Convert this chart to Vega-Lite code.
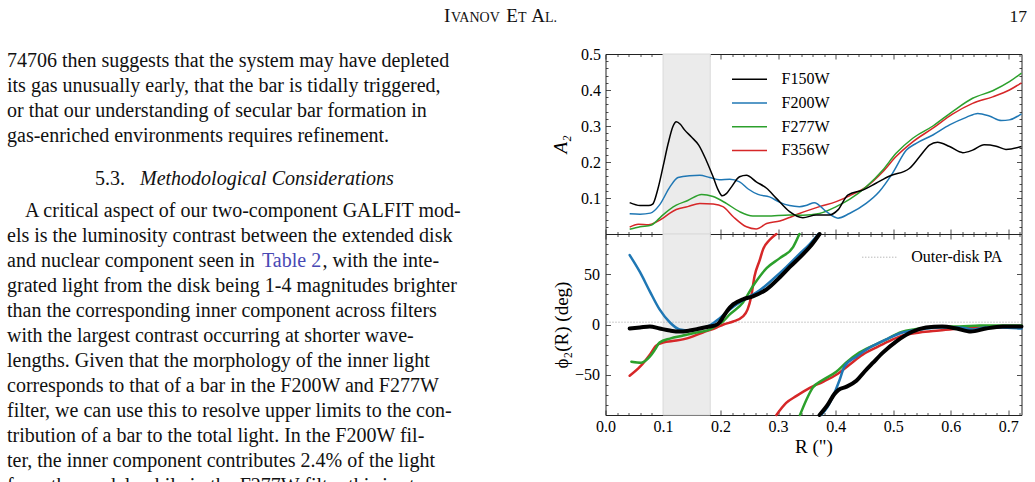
{
  "$schema": "https://vega.github.io/schema/vega-lite/v6.json",
  "padding": 0,
  "background": "white",
  "bounds": "flush",
  "spacing": 45.5,
  "config": {
    "view": {"stroke": null},
    "axis": {
      "labelFont": "Liberation Serif", "labelFontSize": 16, "labelColor": "#000",
      "titleFont": "Liberation Serif", "titleFontSize": 19, "titleFontWeight": "normal", "titleColor": "#000",
      "tickColor": "#222", "domainColor": "#222", "tickWidth": 0.8, "domainWidth": 1,
      "grid": false, "labelOverlap": false, "labelFlush": false, "labelBound": false
    },
    "legend": {"labelFont": "Liberation Serif", "labelFontSize": 16, "labelColor": "#000", "padding": 0}
  },
  "datasets": {
    "txt": [
      {"k": "hb", "line": -0.788, "x": 444, "t": "I"},
      {"k": "hs", "line": -0.788, "x": 451, "t": "VANOV"},
      {"k": "hb", "line": -0.788, "x": 506.3, "t": "E"},
      {"k": "hs", "line": -0.788, "x": 518, "t": "T"},
      {"k": "hb", "line": -0.788, "x": 531.3, "t": "A"},
      {"k": "hs", "line": -0.788, "x": 545, "t": "L."},
      {"k": "body", "line": 1, "x": 7, "t": "74706 then suggests that the system may have depleted"},
      {"k": "body", "line": 2, "x": 7, "t": "its gas unusually early, that the bar is tidally triggered,"},
      {"k": "body", "line": 3, "x": 7, "t": "or that our understanding of secular bar formation in"},
      {"k": "body", "line": 4, "x": 7, "t": "gas-enriched environments requires refinement."},
      {"k": "body", "line": 5.732, "x": 95, "t": "5.3."},
      {"k": "ital", "line": 5.732, "x": 140, "t": "Methodological Considerations"},
      {"k": "body", "line": 7, "x": 25, "t": "A critical aspect of our two-component GALFIT mod-"},
      {"k": "body", "line": 8, "x": 7, "t": "els is the luminosity contrast between the extended disk"},
      {"k": "body", "line": 9, "x": 7, "t": "and nuclear component seen in"},
      {"k": "link", "line": 9, "x": 262, "t": "Table 2"},
      {"k": "body", "line": 9, "x": 322.5, "t": ", with the inte-"},
      {"k": "body", "line": 10, "x": 7, "t": "grated light from the disk being 1-4 magnitudes brighter"},
      {"k": "body", "line": 11, "x": 7, "t": "than the corresponding inner component across filters"},
      {"k": "body", "line": 12, "x": 7, "t": "with the largest contrast occurring at shorter wave-"},
      {"k": "body", "line": 13, "x": 7, "t": "lengths. Given that the morphology of the inner light"},
      {"k": "body", "line": 14, "x": 7, "t": "corresponds to that of a bar in the F200W and F277W"},
      {"k": "body", "line": 15, "x": 7, "t": "filter, we can use this to resolve upper limits to the con-"},
      {"k": "body", "line": 16, "x": 7, "t": "tribution of a bar to the total light. In the F200W fil-"},
      {"k": "body", "line": 17, "x": 7, "t": "ter, the inner component contributes 2.4% of the light"},
      {"k": "body", "line": 18, "x": 7, "t": "from the model, while in the F277W filter this is at"}
    ],
    "a2": [
      {"f":"F356W","R":0.042,"A":0.019},{"f":"F356W","R":0.057,"A":0.027},{"f":"F356W","R":0.075,"A":0.026},{"f":"F356W","R":0.088,"A":0.033},{"f":"F356W","R":0.100,"A":0.044},{"f":"F356W","R":0.112,"A":0.058},{"f":"F356W","R":0.123,"A":0.068},{"f":"F356W","R":0.143,"A":0.076},{"f":"F356W","R":0.164,"A":0.085},{"f":"F356W","R":0.187,"A":0.083},{"f":"F356W","R":0.204,"A":0.076},{"f":"F356W","R":0.222,"A":0.048},{"f":"F356W","R":0.245,"A":0.020},{"f":"F356W","R":0.262,"A":0.014},{"f":"F356W","R":0.280,"A":0.029},{"f":"F356W","R":0.303,"A":0.036},{"f":"F356W","R":0.320,"A":0.046},{"f":"F356W","R":0.337,"A":0.057},{"f":"F356W","R":0.372,"A":0.076},{"f":"F356W","R":0.401,"A":0.090},{"f":"F356W","R":0.424,"A":0.106},{"f":"F356W","R":0.453,"A":0.131},{"f":"F356W","R":0.482,"A":0.173},{"f":"F356W","R":0.505,"A":0.215},{"f":"F356W","R":0.534,"A":0.256},{"f":"F356W","R":0.569,"A":0.294},{"f":"F356W","R":0.603,"A":0.333},{"f":"F356W","R":0.638,"A":0.363},{"f":"F356W","R":0.673,"A":0.381},{"f":"F356W","R":0.702,"A":0.400},{"f":"F356W","R":0.723,"A":0.420},
      {"f":"F277W","R":0.042,"A":0.013},{"f":"F277W","R":0.060,"A":0.020},{"f":"F277W","R":0.080,"A":0.025},{"f":"F277W","R":0.090,"A":0.038},{"f":"F277W","R":0.100,"A":0.053},{"f":"F277W","R":0.123,"A":0.080},{"f":"F277W","R":0.143,"A":0.093},{"f":"F277W","R":0.167,"A":0.110},{"f":"F277W","R":0.187,"A":0.104},{"f":"F277W","R":0.210,"A":0.085},{"f":"F277W","R":0.233,"A":0.062},{"f":"F277W","R":0.256,"A":0.050},{"f":"F277W","R":0.280,"A":0.050},{"f":"F277W","R":0.320,"A":0.053},{"f":"F277W","R":0.343,"A":0.052},{"f":"F277W","R":0.372,"A":0.057},{"f":"F277W","R":0.401,"A":0.076},{"f":"F277W","R":0.424,"A":0.096},{"f":"F277W","R":0.453,"A":0.131},{"f":"F277W","R":0.482,"A":0.178},{"f":"F277W","R":0.505,"A":0.224},{"f":"F277W","R":0.534,"A":0.266},{"f":"F277W","R":0.569,"A":0.300},{"f":"F277W","R":0.603,"A":0.340},{"f":"F277W","R":0.638,"A":0.377},{"f":"F277W","R":0.673,"A":0.398},{"f":"F277W","R":0.702,"A":0.423},{"f":"F277W","R":0.723,"A":0.447},
      {"f":"F200W","R":0.042,"A":0.056},{"f":"F200W","R":0.060,"A":0.055},{"f":"F200W","R":0.078,"A":0.058},{"f":"F200W","R":0.094,"A":0.081},{"f":"F200W","R":0.112,"A":0.131},{"f":"F200W","R":0.126,"A":0.157},{"f":"F200W","R":0.146,"A":0.162},{"f":"F200W","R":0.164,"A":0.163},{"f":"F200W","R":0.181,"A":0.157},{"f":"F200W","R":0.198,"A":0.151},{"f":"F200W","R":0.216,"A":0.152},{"f":"F200W","R":0.233,"A":0.145},{"f":"F200W","R":0.248,"A":0.125},{"f":"F200W","R":0.265,"A":0.110},{"f":"F200W","R":0.285,"A":0.103},{"f":"F200W","R":0.303,"A":0.088},{"f":"F200W","R":0.320,"A":0.079},{"f":"F200W","R":0.337,"A":0.076},{"f":"F200W","R":0.350,"A":0.080},{"f":"F200W","R":0.363,"A":0.087},{"f":"F200W","R":0.384,"A":0.062},{"f":"F200W","R":0.404,"A":0.044},{"f":"F200W","R":0.424,"A":0.057},{"f":"F200W","R":0.453,"A":0.085},{"f":"F200W","R":0.476,"A":0.118},{"f":"F200W","R":0.499,"A":0.169},{"f":"F200W","R":0.523,"A":0.233},{"f":"F200W","R":0.540,"A":0.252},{"f":"F200W","R":0.569,"A":0.275},{"f":"F200W","R":0.598,"A":0.303},{"f":"F200W","R":0.627,"A":0.324},{"f":"F200W","R":0.647,"A":0.335},{"f":"F200W","R":0.667,"A":0.328},{"f":"F200W","R":0.688,"A":0.315},{"f":"F200W","R":0.702,"A":0.317},{"f":"F200W","R":0.723,"A":0.334},
      {"f":"F150W","R":0.042,"A":0.087},{"f":"F150W","R":0.060,"A":0.079},{"f":"F150W","R":0.075,"A":0.079},{"f":"F150W","R":0.082,"A":0.083},{"f":"F150W","R":0.091,"A":0.125},{"f":"F150W","R":0.100,"A":0.187},{"f":"F150W","R":0.109,"A":0.252},{"f":"F150W","R":0.117,"A":0.298},{"f":"F150W","R":0.123,"A":0.312},{"f":"F150W","R":0.130,"A":0.305},{"f":"F150W","R":0.137,"A":0.290},{"f":"F150W","R":0.149,"A":0.270},{"f":"F150W","R":0.162,"A":0.247},{"f":"F150W","R":0.175,"A":0.205},{"f":"F150W","R":0.187,"A":0.159},{"f":"F150W","R":0.196,"A":0.122},{"f":"F150W","R":0.203,"A":0.106},{"f":"F150W","R":0.210,"A":0.112},{"f":"F150W","R":0.219,"A":0.131},{"f":"F150W","R":0.233,"A":0.159},{"f":"F150W","R":0.245,"A":0.163},{"f":"F150W","R":0.262,"A":0.145},{"f":"F150W","R":0.280,"A":0.127},{"f":"F150W","R":0.297,"A":0.099},{"f":"F150W","R":0.320,"A":0.062},{"f":"F150W","R":0.343,"A":0.045},{"f":"F150W","R":0.366,"A":0.053},{"f":"F150W","R":0.389,"A":0.053},{"f":"F150W","R":0.404,"A":0.067},{"f":"F150W","R":0.421,"A":0.108},{"f":"F150W","R":0.447,"A":0.122},{"f":"F150W","R":0.470,"A":0.141},{"f":"F150W","R":0.494,"A":0.161},{"f":"F150W","R":0.528,"A":0.182},{"f":"F150W","R":0.546,"A":0.215},{"f":"F150W","R":0.563,"A":0.247},{"f":"F150W","R":0.577,"A":0.255},{"f":"F150W","R":0.598,"A":0.243},{"f":"F150W","R":0.621,"A":0.226},{"f":"F150W","R":0.638,"A":0.233},{"f":"F150W","R":0.658,"A":0.248},{"f":"F150W","R":0.679,"A":0.244},{"f":"F150W","R":0.696,"A":0.235},{"f":"F150W","R":0.723,"A":0.243}
    ],
    "phi": [
      {"f":"F356W","s":"a","R":0.042,"p":-51},{"f":"F356W","s":"a","R":0.060,"p":-42},{"f":"F356W","s":"a","R":0.077,"p":-30},{"f":"F356W","s":"a","R":0.088,"p":-21},{"f":"F356W","s":"a","R":0.100,"p":-18},{"f":"F356W","s":"a","R":0.123,"p":-16},{"f":"F356W","s":"a","R":0.146,"p":-13},{"f":"F356W","s":"a","R":0.169,"p":-8},{"f":"F356W","s":"a","R":0.193,"p":-3},{"f":"F356W","s":"a","R":0.205,"p":0},{"f":"F356W","s":"a","R":0.222,"p":3},{"f":"F356W","s":"a","R":0.239,"p":8},{"f":"F356W","s":"a","R":0.247,"p":15},{"f":"F356W","s":"a","R":0.253,"p":27},{"f":"F356W","s":"a","R":0.259,"p":48},{"f":"F356W","s":"a","R":0.268,"p":64},{"f":"F356W","s":"a","R":0.274,"p":75},{"f":"F356W","s":"a","R":0.285,"p":84},{"f":"F356W","s":"a","R":0.297,"p":90},
      {"f":"F356W","s":"b","R":0.297,"p":-90},{"f":"F356W","s":"b","R":0.314,"p":-78},{"f":"F356W","s":"b","R":0.332,"p":-71},{"f":"F356W","s":"b","R":0.355,"p":-63},{"f":"F356W","s":"b","R":0.378,"p":-57},{"f":"F356W","s":"b","R":0.401,"p":-50},{"f":"F356W","s":"b","R":0.424,"p":-40},{"f":"F356W","s":"b","R":0.447,"p":-30},{"f":"F356W","s":"b","R":0.470,"p":-23},{"f":"F356W","s":"b","R":0.491,"p":-17},{"f":"F356W","s":"b","R":0.511,"p":-12},{"f":"F356W","s":"b","R":0.546,"p":-8},{"f":"F356W","s":"b","R":0.580,"p":-6},{"f":"F356W","s":"b","R":0.615,"p":-4},{"f":"F356W","s":"b","R":0.650,"p":-3},{"f":"F356W","s":"b","R":0.723,"p":-3},
      {"f":"F277W","s":"a","R":0.045,"p":-37},{"f":"F277W","s":"a","R":0.062,"p":-38},{"f":"F277W","s":"a","R":0.077,"p":-32},{"f":"F277W","s":"a","R":0.086,"p":-25},{"f":"F277W","s":"a","R":0.094,"p":-18},{"f":"F277W","s":"a","R":0.112,"p":-14},{"f":"F277W","s":"a","R":0.135,"p":-11},{"f":"F277W","s":"a","R":0.158,"p":-8},{"f":"F277W","s":"a","R":0.181,"p":-5},{"f":"F277W","s":"a","R":0.193,"p":-1},{"f":"F277W","s":"a","R":0.204,"p":3},{"f":"F277W","s":"a","R":0.216,"p":10},{"f":"F277W","s":"a","R":0.239,"p":22},{"f":"F277W","s":"a","R":0.256,"p":38},{"f":"F277W","s":"a","R":0.280,"p":56},{"f":"F277W","s":"a","R":0.303,"p":66},{"f":"F277W","s":"a","R":0.326,"p":77},{"f":"F277W","s":"a","R":0.337,"p":90},
      {"f":"F277W","s":"b","R":0.338,"p":-90},{"f":"F277W","s":"b","R":0.349,"p":-75},{"f":"F277W","s":"b","R":0.360,"p":-63},{"f":"F277W","s":"b","R":0.378,"p":-55},{"f":"F277W","s":"b","R":0.401,"p":-47},{"f":"F277W","s":"b","R":0.418,"p":-38},{"f":"F277W","s":"b","R":0.441,"p":-28},{"f":"F277W","s":"b","R":0.465,"p":-21},{"f":"F277W","s":"b","R":0.491,"p":-14},{"f":"F277W","s":"b","R":0.511,"p":-8},{"f":"F277W","s":"b","R":0.546,"p":-4},{"f":"F277W","s":"b","R":0.580,"p":-2},{"f":"F277W","s":"b","R":0.615,"p":-2},{"f":"F277W","s":"b","R":0.650,"p":-1},{"f":"F277W","s":"b","R":0.685,"p":-1},{"f":"F277W","s":"b","R":0.723,"p":-1},
      {"f":"F200W","s":"a","R":0.042,"p":69},{"f":"F200W","s":"a","R":0.060,"p":52},{"f":"F200W","s":"a","R":0.077,"p":33},{"f":"F200W","s":"a","R":0.094,"p":15},{"f":"F200W","s":"a","R":0.112,"p":2},{"f":"F200W","s":"a","R":0.129,"p":-5},{"f":"F200W","s":"a","R":0.146,"p":-6},{"f":"F200W","s":"a","R":0.164,"p":-4},{"f":"F200W","s":"a","R":0.181,"p":-1},{"f":"F200W","s":"a","R":0.198,"p":6},{"f":"F200W","s":"a","R":0.216,"p":15},{"f":"F200W","s":"a","R":0.233,"p":22},{"f":"F200W","s":"a","R":0.251,"p":28},{"f":"F200W","s":"a","R":0.268,"p":34},{"f":"F200W","s":"a","R":0.291,"p":45},{"f":"F200W","s":"a","R":0.314,"p":57},{"f":"F200W","s":"a","R":0.335,"p":69},{"f":"F200W","s":"a","R":0.355,"p":80},{"f":"F200W","s":"a","R":0.370,"p":90},
      {"f":"F200W","s":"b","R":0.375,"p":-90},{"f":"F200W","s":"b","R":0.386,"p":-82},{"f":"F200W","s":"b","R":0.398,"p":-68},{"f":"F200W","s":"b","R":0.407,"p":-55},{"f":"F200W","s":"b","R":0.415,"p":-42},{"f":"F200W","s":"b","R":0.436,"p":-32},{"f":"F200W","s":"b","R":0.459,"p":-23},{"f":"F200W","s":"b","R":0.476,"p":-18},{"f":"F200W","s":"b","R":0.491,"p":-14},{"f":"F200W","s":"b","R":0.511,"p":-9},{"f":"F200W","s":"b","R":0.546,"p":-5},{"f":"F200W","s":"b","R":0.580,"p":-3},{"f":"F200W","s":"b","R":0.615,"p":-3},{"f":"F200W","s":"b","R":0.640,"p":-5},{"f":"F200W","s":"b","R":0.660,"p":-3},{"f":"F200W","s":"b","R":0.685,"p":-3},{"f":"F200W","s":"b","R":0.723,"p":-4},
      {"f":"F150W","s":"a","R":0.042,"p":-4},{"f":"F150W","s":"a","R":0.060,"p":-3},{"f":"F150W","s":"a","R":0.077,"p":-2},{"f":"F150W","s":"a","R":0.094,"p":-4},{"f":"F150W","s":"a","R":0.112,"p":-6},{"f":"F150W","s":"a","R":0.129,"p":-7},{"f":"F150W","s":"a","R":0.146,"p":-6},{"f":"F150W","s":"a","R":0.164,"p":-4},{"f":"F150W","s":"a","R":0.181,"p":-2},{"f":"F150W","s":"a","R":0.190,"p":-1},{"f":"F150W","s":"a","R":0.198,"p":2},{"f":"F150W","s":"a","R":0.205,"p":8},{"f":"F150W","s":"a","R":0.212,"p":14},{"f":"F150W","s":"a","R":0.222,"p":20},{"f":"F150W","s":"a","R":0.239,"p":25},{"f":"F150W","s":"a","R":0.256,"p":28},{"f":"F150W","s":"a","R":0.280,"p":35},{"f":"F150W","s":"a","R":0.303,"p":47},{"f":"F150W","s":"a","R":0.320,"p":57},{"f":"F150W","s":"a","R":0.340,"p":68},{"f":"F150W","s":"a","R":0.355,"p":77},{"f":"F150W","s":"a","R":0.372,"p":90},
      {"f":"F150W","s":"b","R":0.372,"p":-90},{"f":"F150W","s":"b","R":0.386,"p":-80},{"f":"F150W","s":"b","R":0.398,"p":-69},{"f":"F150W","s":"b","R":0.405,"p":-65},{"f":"F150W","s":"b","R":0.418,"p":-62},{"f":"F150W","s":"b","R":0.436,"p":-56},{"f":"F150W","s":"b","R":0.450,"p":-47},{"f":"F150W","s":"b","R":0.465,"p":-38},{"f":"F150W","s":"b","R":0.482,"p":-28},{"f":"F150W","s":"b","R":0.505,"p":-17},{"f":"F150W","s":"b","R":0.534,"p":-7},{"f":"F150W","s":"b","R":0.557,"p":-3},{"f":"F150W","s":"b","R":0.585,"p":-2},{"f":"F150W","s":"b","R":0.610,"p":-4},{"f":"F150W","s":"b","R":0.635,"p":-7},{"f":"F150W","s":"b","R":0.661,"p":-4},{"f":"F150W","s":"b","R":0.690,"p":-2},{"f":"F150W","s":"b","R":0.723,"p":-2}
    ]
  },
  "hconcat": [
    {
      "width": 560,
      "height": 482,
      "data": {"name": "txt"},
      "encoding": {
        "x": {"field": "x", "type": "quantitative", "scale": {"domain": [0, 560], "nice": false, "zero": false}, "axis": null},
        "y": {"field": "line", "type": "quantitative", "scale": {"domain": [-1.668, 17.612], "nice": false, "zero": false, "reverse": true}, "axis": null},
        "text": {"field": "t"}
      },
      "layer": [
        {"transform": [{"filter": "datum.k == 'body'"}], "mark": {"type": "text", "align": "left", "baseline": "alphabetic", "font": "Liberation Serif", "fontSize": 20, "color": "#111", "clip": true}},
        {"transform": [{"filter": "datum.k == 'ital'"}], "mark": {"type": "text", "align": "left", "baseline": "alphabetic", "font": "Liberation Serif", "fontSize": 20, "fontStyle": "italic", "color": "#111", "clip": true}},
        {"transform": [{"filter": "datum.k == 'link'"}], "mark": {"type": "text", "align": "left", "baseline": "alphabetic", "font": "Liberation Serif", "fontSize": 20, "color": "#4848b4", "clip": true}},
        {"transform": [{"filter": "datum.k == 'hb'"}], "mark": {"type": "text", "align": "left", "baseline": "alphabetic", "font": "Liberation Serif", "fontSize": 19, "color": "#111"}},
        {"transform": [{"filter": "datum.k == 'hs'"}], "mark": {"type": "text", "align": "left", "baseline": "alphabetic", "font": "Liberation Serif", "fontSize": 14, "color": "#111"}}
      ]
    },
    {
      "vconcat": [
        {
          "width": 416,
          "height": 54,
          "data": {"values": [{"t": "17", "x": 1027, "line": -0.788}]},
          "mark": {"type": "text", "align": "right", "baseline": "alphabetic", "font": "Liberation Serif", "fontSize": 17.5, "color": "#111"},
          "encoding": {
            "x": {"field": "x", "type": "quantitative", "scale": {"domain": [605.5, 1021.5], "nice": false, "zero": false}, "axis": null},
            "y": {"field": "line", "type": "quantitative", "scale": {"domain": [-1.668, 0.492], "nice": false, "zero": false, "reverse": true}, "axis": null},
            "text": {"field": "t"}
          }
        },
        {
          "width": 416,
          "height": 180,
          "layer": [
            {
              "data": {"values": [{"lo": 0.1, "hi": 0.182}]},
              "mark": {"type": "rect", "fill": "#ebebeb", "stroke": "#dadada", "strokeWidth": 1},
              "encoding": {
                "x": {"field": "lo", "type": "quantitative", "scale": {"domain": [0, 0.723], "nice": false, "zero": false}, "axis": null},
                "x2": {"field": "hi"}
              }
            },
            {
              "data": {"name": "a2"},
              "mark": {"type": "line", "strokeWidth": 1.5, "interpolate": "monotone"},
              "encoding": {
                "x": {"field": "R", "type": "quantitative", "scale": {"domain": [0, 0.723], "nice": false, "zero": false},
                  "axis": {"orient": "bottom", "values": [0,0.02,0.04,0.06,0.08,0.1,0.12,0.14,0.16,0.18,0.2,0.22,0.24,0.26,0.28,0.3,0.32,0.34,0.36,0.38,0.4,0.42,0.44,0.46,0.48,0.5,0.52,0.54,0.56,0.58,0.6,0.62,0.64,0.66,0.68,0.7,0.72], "labels": false, "title": null,
                    "tickSize": {"condition": {"test": "abs(datum.value*10-round(datum.value*10))<0.01", "value": -5}, "value": -2.5}}},
                "y": {"field": "A", "type": "quantitative", "scale": {"domain": [0, 0.5], "nice": false, "zero": false},
                  "axis": {"orient": "left", "values": [0.02,0.04,0.06,0.08,0.1,0.12,0.14,0.16,0.18,0.2,0.22,0.24,0.26,0.28,0.3,0.32,0.34,0.36,0.38,0.4,0.42,0.44,0.46,0.48,0.5],
                    "labelExpr": "abs(datum.value*10-round(datum.value*10))<0.01 ? format(datum.value, '.1f') : ''",
                    "tickSize": {"condition": {"test": "abs(datum.value*10-round(datum.value*10))<0.01", "value": -5}, "value": -2.5},
                    "labelPadding": 10, "title": "A₂", "titleFontStyle": "italic", "titlePadding": 10}},
                "color": {"field": "f", "type": "nominal",
                  "scale": {"domain": ["F150W", "F200W", "F277W", "F356W"], "range": ["#000000", "#1f77b4", "#2ca02c", "#d62728"]},
                  "legend": {"orient": "none", "legendX": 740.5, "legendY": 70.3, "title": null, "symbolType": "M-2.1875,0L2.1875,0", "symbolSize": 256, "symbolStrokeWidth": 1.5, "labelOffset": 23, "rowPadding": 6.7}}
              }
            },
            {
              "data": {"name": "a2"},
              "mark": {"type": "point", "opacity": 0},
              "encoding": {
                "x": {"field": "R", "type": "quantitative", "scale": {"domain": [0, 0.723], "nice": false, "zero": false},
                  "axis": {"orient": "top", "values": [0,0.02,0.04,0.06,0.08,0.1,0.12,0.14,0.16,0.18,0.2,0.22,0.24,0.26,0.28,0.3,0.32,0.34,0.36,0.38,0.4,0.42,0.44,0.46,0.48,0.5,0.52,0.54,0.56,0.58,0.6,0.62,0.64,0.66,0.68,0.7,0.72], "labels": false, "title": null,
                    "tickSize": {"condition": {"test": "abs(datum.value*10-round(datum.value*10))<0.01", "value": -5}, "value": -2.5}}},
                "y": {"field": "A", "type": "quantitative", "scale": {"domain": [0, 0.5], "nice": false, "zero": false},
                  "axis": {"orient": "right", "values": [0.02,0.04,0.06,0.08,0.1,0.12,0.14,0.16,0.18,0.2,0.22,0.24,0.26,0.28,0.3,0.32,0.34,0.36,0.38,0.4,0.42,0.44,0.46,0.48,0.5], "labels": false, "title": null,
                    "tickSize": {"condition": {"test": "abs(datum.value*10-round(datum.value*10))<0.01", "value": -5}, "value": -2.5}}}
              }
            }
          ],
          "resolve": {"axis": {"x": "independent", "y": "independent"}}
        },
        {
          "width": 416,
          "height": 181,
          "layer": [
            {
              "data": {"values": [{"lo": 0.1, "hi": 0.182}]},
              "mark": {"type": "rect", "fill": "#ebebeb", "stroke": "#dadada", "strokeWidth": 1},
              "encoding": {
                "x": {"field": "lo", "type": "quantitative", "scale": {"domain": [0, 0.723], "nice": false, "zero": false}, "axis": null},
                "x2": {"field": "hi"}
              }
            },
            {
              "data": {"values": [{"pa": 2.3, "lab": "Outer-disk PA"}]},
              "mark": {"type": "rule", "color": "#9a9a9a", "strokeWidth": 1},
              "encoding": {
                "y": {"field": "pa", "type": "quantitative", "scale": {"domain": [-90, 90], "nice": false, "zero": false}, "axis": null},
                "strokeDash": {"field": "lab", "type": "nominal", "scale": {"domain": ["Outer-disk PA"], "range": [[1, 2]]},
                  "legend": {"orient": "none", "legendX": 871.3, "legendY": 248.7, "title": null, "symbolType": "M-2.1875,0L2.1875,0", "symbolSize": 256, "symbolStrokeColor": "#9a9a9a", "symbolStrokeWidth": 1, "labelOffset": 23}}
              }
            },
            {
              "data": {"name": "phi"},
              "mark": {"type": "line", "interpolate": "monotone", "strokeCap": "round"},
              "encoding": {
                "x": {"field": "R", "type": "quantitative", "scale": {"domain": [0, 0.723], "nice": false, "zero": false},
                  "axis": {"orient": "bottom", "values": [0,0.02,0.04,0.06,0.08,0.1,0.12,0.14,0.16,0.18,0.2,0.22,0.24,0.26,0.28,0.3,0.32,0.34,0.36,0.38,0.4,0.42,0.44,0.46,0.48,0.5,0.52,0.54,0.56,0.58,0.6,0.62,0.64,0.66,0.68,0.7,0.72],
                    "labelExpr": "abs(datum.value*10-round(datum.value*10))<0.01 ? format(datum.value, '.1f') : ''",
                    "tickSize": {"condition": {"test": "abs(datum.value*10-round(datum.value*10))<0.01", "value": -5}, "value": -2.5},
                    "labelPadding": 8, "title": "R (\")", "titlePadding": 1}},
                "y": {"field": "p", "type": "quantitative", "scale": {"domain": [-90, 90], "nice": false, "zero": false},
                  "axis": {"orient": "left", "values": [-80,-70,-60,-50,-40,-30,-20,-10,0,10,20,30,40,50,60,70,80],
                    "labelExpr": "datum.value % 50 == 0 ? (datum.value < 0 ? '−' + abs(datum.value) : '' + datum.value) : ''",
                    "tickSize": {"condition": {"test": "datum.value % 50 == 0", "value": -5}, "value": -2.5},
                    "labelPadding": 11, "title": "ϕ₂(R) (deg)", "titlePadding": 3}},
                "detail": {"field": "s"},
                "color": {"field": "f", "type": "nominal",
                  "scale": {"domain": ["F150W", "F200W", "F277W", "F356W"], "range": ["#000000", "#1f77b4", "#2ca02c", "#d62728"]}, "legend": null},
                "strokeWidth": {"condition": {"test": "datum.f == 'F150W'", "value": 4}, "value": 2.5}
              }
            },
            {
              "data": {"name": "phi"},
              "mark": {"type": "point", "opacity": 0},
              "encoding": {
                "x": {"field": "R", "type": "quantitative", "scale": {"domain": [0, 0.723], "nice": false, "zero": false},
                  "axis": {"orient": "top", "values": [0,0.02,0.04,0.06,0.08,0.1,0.12,0.14,0.16,0.18,0.2,0.22,0.24,0.26,0.28,0.3,0.32,0.34,0.36,0.38,0.4,0.42,0.44,0.46,0.48,0.5,0.52,0.54,0.56,0.58,0.6,0.62,0.64,0.66,0.68,0.7,0.72], "labels": false, "title": null,
                    "tickSize": {"condition": {"test": "abs(datum.value*10-round(datum.value*10))<0.01", "value": -5}, "value": -2.5}}},
                "y": {"field": "p", "type": "quantitative", "scale": {"domain": [-90, 90], "nice": false, "zero": false},
                  "axis": {"orient": "right", "values": [-80,-70,-60,-50,-40,-30,-20,-10,0,10,20,30,40,50,60,70,80], "labels": false, "title": null,
                    "tickSize": {"condition": {"test": "datum.value % 50 == 0", "value": -5}, "value": -2.5}}}
              }
            }
          ],
          "resolve": {"axis": {"x": "independent", "y": "independent"}}
        }
      ],
      "spacing": 0,
      "bounds": "flush"
    }
  ]
}
